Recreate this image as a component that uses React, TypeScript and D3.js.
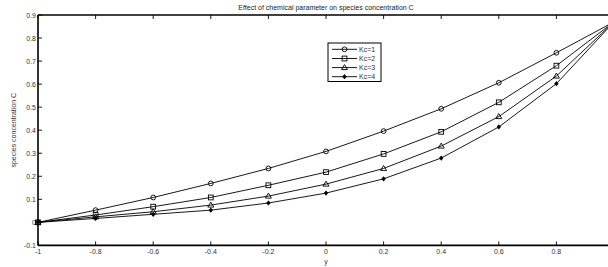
import React from "react";
import * as d3 from "d3";

const xValues = [-1, -0.8, -0.6, -0.4, -0.2, 0, 0.2, 0.4, 0.6, 0.8, 1];
const kc1 = [0, 0.053, 0.108, 0.169, 0.234, 0.308, 0.396, 0.493, 0.606, 0.736, 0.87];
const kc2 = [0, 0.032, 0.068, 0.108, 0.161, 0.218, 0.297, 0.393, 0.521, 0.68, 0.87];
const kc3 = [0, 0.024, 0.046, 0.075, 0.114, 0.166, 0.234, 0.331, 0.459, 0.635, 0.87];
const kc4 = [0, 0.017, 0.035, 0.053, 0.084, 0.127, 0.189, 0.279, 0.414, 0.602, 0.87];
const seriesNames = ["Kc=1", "Kc=2", "Kc=3", "Kc=4"];
const markerTypes = ["circle", "square", "triangle", "diamond"];
const xTicks = [-1, -0.8, -0.6, -0.4, -0.2, 0, 0.2, 0.4, 0.6, 0.8];
const yTicks = [-0.1, 0, 0.1, 0.2, 0.3, 0.4, 0.5, 0.6, 0.7, 0.8, 0.9];
const title = "Effect of chemical parameter on species concentration C";
const xLabel = "y";
const yLabel = "species concentration C";

const W = 608;
const H = 267;
const left = 38;
const right = 614;
const top = 15;
const bottom = 245.4;
const FONT = "'Liberation Sans', Arial, sans-serif";

function Marker({ type, x, y }: { type: string; x: number; y: number }) {
  if (type === "circle")
    return <circle cx={x} cy={y} r={2.4} fill="none" stroke="#000" strokeWidth={0.9} />;
  if (type === "square")
    return <rect x={x - 2.4} y={y - 2.4} width={4.8} height={4.8} fill="none" stroke="#000" strokeWidth={0.9} />;
  if (type === "triangle")
    return (
      <path
        d={`M${x},${y - 3} L${x + 3},${y + 2} L${x - 3},${y + 2} Z`}
        fill="none"
        stroke="#000"
        strokeWidth={0.9}
      />
    );
  return <path d={`M${x},${y - 2.6} L${x + 2.2},${y} L${x},${y + 2.6} L${x - 2.2},${y} Z`} fill="#000" />;
}

export default function App() {
  const x = d3.scaleLinear().domain([-1, 1]).range([left, right]);
  const y = d3.scaleLinear().domain([-0.1, 0.9]).range([bottom, top]);
  const series = [kc1, kc2, kc3, kc4];
  const line = d3
    .line<number>()
    .x((_, i) => x(xValues[i]))
    .y((d) => y(d));
  const fmt = (v: number) => (Math.abs(v) < 1e-9 ? "0" : String(+v.toFixed(1)));
  const legendRows = [49.3, 58.5, 67.6, 76.7];

  return (
    <svg
      width={W}
      height={H}
      style={{ position: "absolute", left: 0, top: 0, background: "#fff" }}
      fontFamily={FONT}
    >
      <rect x={0} y={0} width={W} height={H} fill="#fff" />
      {/* axes frame */}
      <line x1={left} x2={right} y1={top} y2={top} stroke="#000" strokeWidth={1.6} />
      <line x1={left} x2={right} y1={bottom} y2={bottom} stroke="#000" strokeWidth={1.6} />
      <line x1={left} x2={left} y1={top} y2={bottom} stroke="#000" strokeWidth={1.6} />
      {xTicks.map((t) => (
        <g key={"xt" + t}>
          <line x1={x(t)} x2={x(t)} y1={bottom} y2={bottom - 4} stroke="#000" strokeWidth={0.9} />
          <line x1={x(t)} x2={x(t)} y1={top} y2={top + 4} stroke="#000" strokeWidth={0.9} />
          <text x={x(t)} y={bottom + 8.5} fontSize={7} textAnchor="middle" fill="#333">
            {fmt(t)}
          </text>
        </g>
      ))}
      {yTicks.map((t) => (
        <g key={"yt" + t}>
          <line x1={left} x2={left + 4} y1={y(t)} y2={y(t)} stroke="#000" strokeWidth={0.9} />
          <text x={left - 2} y={y(t) + 2.5} fontSize={7} textAnchor="end" fill="#333">
            {fmt(t)}
          </text>
        </g>
      ))}
      <text x={(left + right) / 2} y={10} fontSize={7} textAnchor="middle" fill="#222">
        {title}
      </text>
      <text x={x(0)} y={264} fontSize={7} textAnchor="middle" fill="#333">
        {xLabel}
      </text>
      <text
        transform={`translate(15.5,${(top + bottom) / 2}) rotate(-90)`}
        fontSize={7}
        textAnchor="middle"
        fill="#333"
      >
        {yLabel}
      </text>
      {series.map((s, si) => (
        <g key={"s" + si}>
          <path d={line(s) || ""} fill="none" stroke="#000" strokeWidth={0.9} />
          {s.map((v, i) => (
            <Marker key={i} type={markerTypes[si]} x={x(xValues[i])} y={y(v)} />
          ))}
        </g>
      ))}
      {/* legend */}
      <rect x={328} y={43} width={53} height={38.5} fill="#fff" stroke="#000" strokeWidth={1} />
      {seriesNames.map((n, i) => (
        <g key={n}>
          <line x1={332} x2={357} y1={legendRows[i]} y2={legendRows[i]} stroke="#000" strokeWidth={0.9} />
          <Marker type={markerTypes[i]} x={344.5} y={legendRows[i]} />
          <text x={359} y={legendRows[i] + 2.5} fontSize={7} fill="#333">
            {n}
          </text>
        </g>
      ))}
    </svg>
  );
}
